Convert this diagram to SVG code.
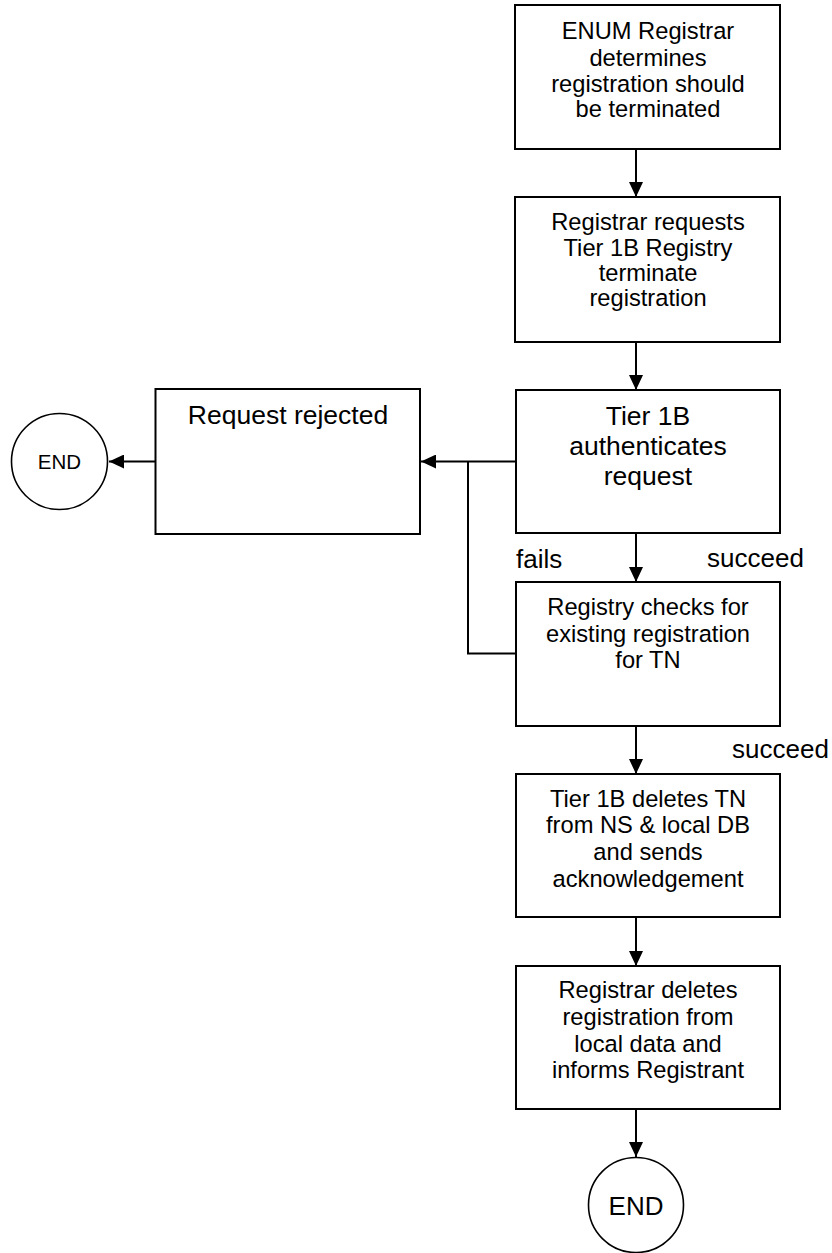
<svg xmlns="http://www.w3.org/2000/svg" width="832" height="1253" viewBox="0 0 832 1253">
  <style>
    .box { fill: #ffffff; stroke: #000000; stroke-width: 2; }
    .term { fill: #ffffff; stroke: #000000; stroke-width: 1.6; }
    .line { fill: none; stroke: #000000; stroke-width: 2; }
    .t { font-family: "Liberation Sans", Arial, sans-serif; fill: #000000; text-anchor: middle; }
    .s { font-size: 23.7px; }
    .l { font-size: 26.5px; }
    .lbl { font-family: "Liberation Sans", Arial, sans-serif; fill: #000000; font-size: 26px; }
  </style>
  <defs>
    <marker id="arrow" markerUnits="userSpaceOnUse" markerWidth="15" markerHeight="14" refX="15" refY="7" orient="auto">
      <path d="M0,0 L15,7 L0,14 z" fill="#000000"/>
    </marker>
  </defs>
  <rect width="832" height="1253" fill="#ffffff"/>

  <g id="connectors">
    <path class="line" d="M636,149 V197" marker-end="url(#arrow)"/>
    <path class="line" d="M636,342 V390" marker-end="url(#arrow)"/>
    <path class="line" d="M636,533 V582" marker-end="url(#arrow)"/>
    <path class="line" d="M636,726 V774" marker-end="url(#arrow)"/>
    <path class="line" d="M636,917 V966" marker-end="url(#arrow)"/>
    <path class="line" d="M636,1109 V1157" marker-end="url(#arrow)"/>
    <path class="line" d="M516,461.5 H421" marker-end="url(#arrow)"/>
    <path class="line" d="M516,653.5 H468 V461.5"/>
    <path class="line" d="M155.5,461.5 H109" marker-end="url(#arrow)"/>
    <text class="lbl" x="516" y="568">fails</text>
    <text class="lbl" x="707" y="567">succeed</text>
    <text class="lbl" x="732" y="758">succeed</text>
  </g>

  <g id="registrar-decides">
    <rect class="box" x="515" y="5" width="265" height="144"/>
    <text class="t s" x="648" y="39">ENUM Registrar</text>
    <text class="t s" x="648" y="65.5">determines</text>
    <text class="t s" x="648" y="91.5">registration should</text>
    <text class="t s" x="648" y="117">be terminated</text>
  </g>

  <g id="registrar-requests">
    <rect class="box" x="515" y="197" width="265" height="145"/>
    <text class="t s" x="648" y="230">Registrar requests</text>
    <text class="t s" x="648" y="256">Tier 1B Registry</text>
    <text class="t s" x="648" y="281">terminate</text>
    <text class="t s" x="648" y="306">registration</text>
  </g>

  <g id="tier1b-authenticates">
    <rect class="box" x="516" y="390" width="264" height="143"/>
    <text class="t l" x="648" y="425">Tier 1B</text>
    <text class="t l" x="648" y="455">authenticates</text>
    <text class="t l" x="648" y="485">request</text>
  </g>

  <g id="request-rejected">
    <rect class="box" x="155.5" y="389" width="264.5" height="145"/>
    <text class="t l" x="288" y="424">Request rejected</text>
  </g>

  <g id="end-rejected">
    <circle class="term" cx="59.5" cy="461.5" r="48"/>
    <text class="t" x="59.5" y="468.5" font-size="20.5px">END</text>
  </g>

  <g id="registry-checks">
    <rect class="box" x="516" y="582" width="264" height="144"/>
    <text class="t s" x="648" y="615">Registry checks for</text>
    <text class="t s" x="648" y="642">existing registration</text>
    <text class="t s" x="648" y="668">for TN</text>
  </g>

  <g id="tier1b-deletes">
    <rect class="box" x="516" y="774" width="264" height="143"/>
    <text class="t s" x="648" y="807">Tier 1B deletes TN</text>
    <text class="t s" x="648" y="833">from NS &amp; local DB</text>
    <text class="t s" x="648" y="860">and sends</text>
    <text class="t s" x="648" y="887">acknowledgement</text>
  </g>

  <g id="registrar-deletes">
    <rect class="box" x="516" y="966" width="264" height="143"/>
    <text class="t s" x="648" y="998">Registrar deletes</text>
    <text class="t s" x="648" y="1025">registration from</text>
    <text class="t s" x="648" y="1052">local data and</text>
    <text class="t s" x="648" y="1078">informs Registrant</text>
  </g>

  <g id="end-complete">
    <circle class="term" cx="636" cy="1205" r="47.5"/>
    <text class="t" x="636" y="1215" font-size="26px">END</text>
  </g>
</svg>
